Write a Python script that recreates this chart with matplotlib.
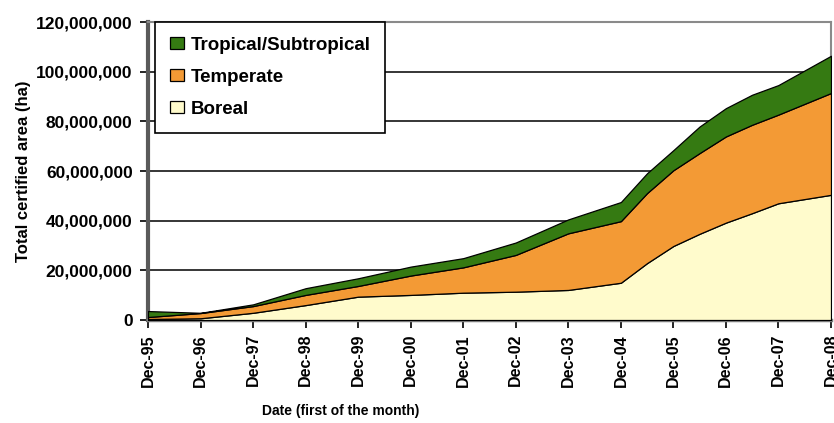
import pandas as pd
import matplotlib
matplotlib.use("Agg")
import matplotlib.pyplot as plt
import matplotlib.dates as mdates
from matplotlib.ticker import FuncFormatter

plt.rcParams["font.family"] = ["Liberation Sans", "DejaVu Sans"]
plt.rcParams["font.weight"] = "bold"

# Dates (first of the month)
dates = ["1995-12-01", "1996-12-01", "1997-12-01", "1998-12-01", "1999-12-01",
         "2000-12-01", "2001-12-01", "2002-12-01", "2003-12-01", "2004-12-01",
         "2005-06-01", "2005-12-01", "2006-06-01", "2006-12-01", "2007-06-01",
         "2007-12-01", "2008-12-01"]

# certified area per forest type, millions of ha
boreal = [0.4, 0.7, 2.9, 6.0, 9.4, 10.1, 11.0, 11.4, 12.1, 15.0,
          22.9, 29.8, 34.7, 39.2, 43.0, 47.0, 50.4]
temperate = [0.8, 2.1, 2.7, 4.1, 4.3, 7.8, 10.2, 14.8, 22.8, 24.8,
             28.2, 30.5, 32.5, 34.7, 35.6, 35.7, 41.0]
tropical = [2.4, 0.1, 0.7, 2.7, 3.1, 3.6, 3.7, 5.0, 5.6, 7.7,
            8.0, 8.1, 10.7, 11.4, 12.1, 11.9, 15.0]

labels = ["Boreal", "Temperate", "Tropical/Subtropical"]
colors = ["#FFFBCC", "#F39A35", "#357A12"]

x = pd.to_datetime(dates)
scale = 1e6

fig = plt.figure(figsize=(8.34, 4.23), dpi=100)
ax = fig.add_axes([148 / 834, 1 - 320 / 423, 683 / 834, 298 / 423])

ax.stackplot(x, [v * scale for v in boreal], [v * scale for v in temperate],
             [v * scale for v in tropical], labels=labels, colors=colors,
             edgecolor="black", linewidth=0.9, zorder=3)

ax.set_xlim(x[0], x[-1])
ax.set_ylim(0, 120e6)
ax.set_yticks(range(0, 120_000_001, 20_000_000))
ax.yaxis.set_major_formatter(FuncFormatter(lambda v, p: f"{int(v):,}"))
ax.grid(True, axis="y", color="black", linewidth=1.1, zorder=1)
ax.set_axisbelow(True)

ticks = pd.to_datetime([f"{y}-12-01" for y in range(1995, 2009)])
ax.set_xticks(ticks)
ax.xaxis.set_major_formatter(mdates.DateFormatter("%b-%y"))
plt.setp(ax.get_xticklabels(), rotation=90, fontsize=11.5, fontweight="bold")
plt.setp(ax.get_yticklabels(), fontsize=12.5, fontweight="bold")
ax.tick_params(axis="both", direction="out", length=6, width=1.2, color="black")
ax.tick_params(axis="x", pad=4)
ax.tick_params(axis="y", pad=5)

ax.spines["left"].set_color("#5a5a5a")
ax.spines["left"].set_linewidth(3)
ax.spines["bottom"].set_color("#7a7a7a")
ax.spines["bottom"].set_linewidth(2.5)
for s in ["top", "right"]:
    ax.spines[s].set_color("#8a8a8a")
    ax.spines[s].set_linewidth(1.5)

ax.set_ylabel("Total certified area (ha)", fontsize=12, fontweight="bold", labelpad=4)
fig.text(341 / 834, 1 - 411 / 423, "Date (first of the month)", fontsize=10,
         fontweight="bold", ha="center", va="center")

h, l = ax.get_legend_handles_labels()
leg = ax.legend(h[::-1], l[::-1], loc="upper left", bbox_to_anchor=(0.01, 1.0),
                borderaxespad=0, fancybox=False, edgecolor="black", framealpha=1,
                prop={"size": 13.5, "weight": "bold"}, handlelength=0.75,
                handleheight=0.6, labelspacing=0.8, borderpad=0.8,
                handletextpad=0.35)
leg.get_frame().set_linewidth(1.2)
leg.set_zorder(5)

fig.savefig("out.png", dpi=100)
